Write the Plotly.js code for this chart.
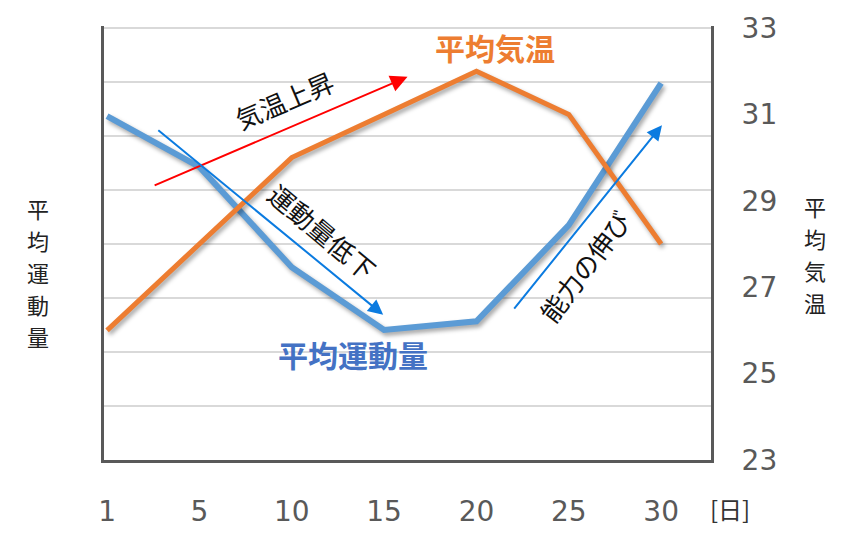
<!DOCTYPE html>
<html>
<head>
<meta charset="utf-8">
<script src="https://cdn.plot.ly/plotly-3.0.1.min.js"></script>
<style>
html,body{margin:0;padding:0;background:#fff;}
#chart{width:854px;height:534px;}
.scatterlayer .trace path.js-line{filter:drop-shadow(2px 3px 2px rgba(0,0,0,0.35));}
</style>
</head>
<body>
<div id="chart"></div>
<script>
// Data
const days = ['1','5','10','15','20','25','30'];
const avgTemp = [26.0, 28.0, 30.0, 31.0, 32.0, 31.0, 28.0];      // 平均気温 (right axis)
const avgExercise = [63.7, 54.3, 35.7, 24.1, 25.7, 43.5, 69.8];  // 平均運動量 (left axis, unlabeled)
const tempTicks = [23, 25, 27, 29, 31, 33];
const exerciseGrid = [10, 20, 30, 40, 50, 60, 70, 80];
const leftTitle = '平均運動量';
const rightTitle = '平均気温';

const jp = '"Noto Sans CJK JP", "Noto Sans", sans-serif';
const num = '"DejaVu Sans", "Noto Sans", sans-serif';
const idx = days.map((d, i) => i);

const M = {l: 104, r: 143, t: 26, b: 74};
const PW = 854 - M.l - M.r, PH = 534 - M.t - M.b;
const px = x => (x - M.l) / PW;
const py = y => 1 - (y - M.t) / PH;

const traces = [
  {x: idx, y: avgTemp, yaxis: 'y2', type: 'scatter', mode: 'lines',
   line: {color: '#ED7D31', width: 5}, name: '平均気温', hoverinfo: 'skip'},
  {x: idx, y: avgExercise, yaxis: 'y', type: 'scatter', mode: 'lines',
   line: {color: '#5B9BD5', width: 6}, name: '平均運動量', hoverinfo: 'skip'}
];

const annotations = [];
// vertical axis titles, one character per annotation
function vtitle(str, xpx, ycenter) {
  const chars = Array.from(str);
  const step = 32;
  const y0 = ycenter - step * (chars.length - 1) / 2;
  chars.forEach((c, i) => {
    annotations.push({xref: 'paper', yref: 'paper', x: px(xpx), y: py(y0 + i * step),
      text: c, showarrow: false, font: {family: jp, size: 22, color: '#222'}, xanchor: 'center', yanchor: 'middle'});
  });
}
vtitle(leftTitle, 38, 272);
vtitle(rightTitle, 815, 254);

// series labels
annotations.push({xref: 'x', yref: 'y2', x: 4.2, y: 32.55, text: '<b>平均気温</b>', showarrow: false,
  font: {family: jp, size: 30, color: '#ED7D31'}});
annotations.push({xref: 'x', yref: 'y2', x: 2.66, y: 25.45, text: '<b>平均運動量</b>', showarrow: false,
  font: {family: jp, size: 30, color: '#4472C4'}});

// arrows
function arrow(x0, y0, x1, y1, color, size) {
  annotations.push({xref: 'x', yref: 'y2', axref: 'x', ayref: 'y2', x: x1, y: y1, ax: x0, ay: y0,
    text: '', showarrow: true, arrowhead: 2, arrowsize: size, arrowwidth: 2, arrowcolor: color});
}
arrow(0.499, 29.34, 3.254, 31.87, '#FF0000', 1.7);
arrow(0.539, 30.66, 2.99, 26.36, '#0B7BE0', 1.5);
arrow(4.396, 26.47, 6.009, 30.75, '#0B7BE0', 1.5);

// arrow captions
function caption(text, x, y, angle) {
  annotations.push({xref: 'x', yref: 'y2', x: x, y: y, text: text, showarrow: false, textangle: angle,
    font: {family: jp, size: 26, color: '#111'}});
}
caption('気温上昇', 1.92, 31.35, -23);
caption('運動量低下', 2.34, 28.3, 40);
caption('能力の伸び', 5.17, 27.5, -53);

// unit
annotations.push({xref: 'paper', yref: 'paper', x: px(730), y: py(508),
  text: '[日]', showarrow: false, font: {family: jp, size: 24, color: '#333'}, xanchor: 'center', yanchor: 'middle'});

const layout = {
  width: 854, height: 534,
  margin: M,
  paper_bgcolor: '#fff', plot_bgcolor: '#fff',
  showlegend: false,
  xaxis: {
    range: [-0.033, 6.54], tickmode: 'array', tickvals: idx, ticktext: days,
    showgrid: false, zeroline: false, showline: true, linecolor: '#595959', linewidth: 3,
    ticks: '', ticklabelstandoff: 24,
    tickfont: {family: num, size: 28, color: '#595959'}
  },
  yaxis: {
    range: [0, 80.4], tickmode: 'array', tickvals: exerciseGrid, showticklabels: false, ticks: '',
    showgrid: true, gridcolor: '#d9d9d9', gridwidth: 1.5, zeroline: false,
    showline: true, linecolor: '#595959', linewidth: 3
  },
  yaxis2: {
    overlaying: 'y', side: 'right', range: [23, 33.046], tickmode: 'array', tickvals: tempTicks,
    showgrid: false, zeroline: false, showline: true, linecolor: '#595959', linewidth: 3,
    ticks: '', ticklabelstandoff: 22,
    tickfont: {family: num, size: 28, color: '#595959'}
  },
  annotations: annotations
};

Plotly.newPlot('chart', traces, layout, {displayModeBar: false, staticPlot: true});
</script>
</body>
</html>
